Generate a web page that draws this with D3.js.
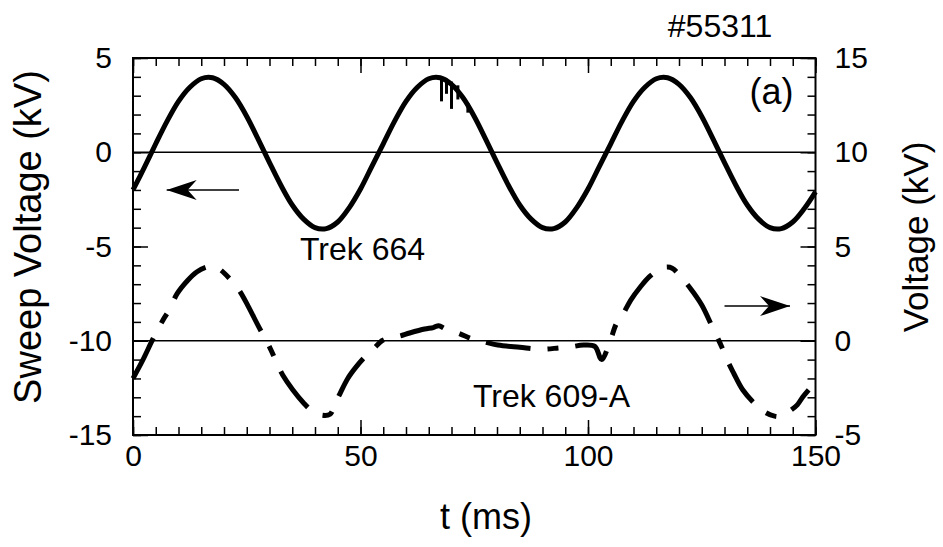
<!DOCTYPE html>
<html>
<head>
<meta charset="utf-8">
<script src="https://cdn.jsdelivr.net/npm/d3@7"></script>
<style>
  body { margin: 0; background: #fff; }
  svg text { font-family: "Liberation Sans", Arial, Helvetica, sans-serif; fill: #000; }
</style>
</head>
<body>
<svg id="chart" width="943" height="547"></svg>
<script>
// ── Data ──
// Trek 664 sweep voltage, left axis (kV), sampled every 2.5 ms
const sweepTime = [0, 2.5, 5, 7.5, 10, 12.5, 15, 17.5, 20, 22.5, 25, 27.5, 30, 32.5, 35, 37.5, 40, 42.5, 45, 47.5,
  50, 52.5, 55, 57.5, 60, 62.5, 65, 67.5, 70, 72.5, 75, 77.5, 80, 82.5, 85, 87.5, 90, 92.5, 95, 97.5,
  100, 102.5, 105, 107.5, 110, 112.5, 115, 117.5, 120, 122.5, 125, 127.5, 130, 132.5, 135, 137.5, 140, 142.5, 145, 147.5, 150];
const trek664 = [-2.0, -0.8, 0.45, 1.65, 2.7, 3.45, 3.9, 3.95, 3.6, 2.9, 1.9, 0.7, -0.55, -1.75, -2.8, -3.55, -4.0, -4.05, -3.7, -2.95,
  -1.95, -0.75, 0.45, 1.65, 2.7, 3.45, 3.9, 3.95, 3.6, 2.9, 1.9, 0.7, -0.55, -1.75, -2.8, -3.55, -4.0, -4.05, -3.7, -2.95,
  -1.95, -0.75, 0.45, 1.65, 2.7, 3.45, 3.9, 3.95, 3.6, 2.9, 1.9, 0.7, -0.55, -1.75, -2.8, -3.55, -4.0, -4.05, -3.7, -3.0, -2.1];

// small spikes on the Trek 664 trace near its 2nd peak: [t, top kV, bottom kV]
const trek664Spikes = [[67.8, 3.95, 2.7], [68.9, 3.9, 3.1], [70.0, 3.75, 2.3], [71.4, 3.55, 2.8], [73.6, 2.6, 2.1]];

// Trek 609-A output voltage, right axis (kV)
const trek609Time = [0, 2, 4.6, 6.6, 8, 9.7, 12, 14, 16, 17.5, 19, 21.3, 23.3, 25.3, 27.5, 30.1, 31.8, 32.9, 35.1, 37.5,
  39.5, 41.5, 43.3, 44.5, 45.5, 47.2, 49, 51, 53, 54.7, 56.5, 58.6, 60.8, 64.1, 66, 67.2, 68.5, 71.4, 75.1, 77.3,
  80.2, 85, 89.8, 93.6, 96, 99, 101.5, 103, 104.8, 106.3, 107.6, 109.4, 111.5, 113.5, 115.5, 117, 118.5, 120.6, 122.6, 125,
  127.2, 129.4, 130.9, 132, 134, 136.5, 139, 141, 142.5, 144.5, 146, 147.2, 148.5];
const trek609 = [-2.0, -1.1, 0.2, 1.1, 1.65, 2.5, 3.2, 3.65, 3.9, 3.95, 3.8, 3.28, 2.69, 1.84, 0.8, -0.38, -1.29, -1.82, -2.6, -3.3,
  -3.75, -3.95, -3.9, -3.3, -2.8, -2.0, -1.4, -0.85, -0.4, 0.0, 0.15, 0.25, 0.41, 0.62, 0.7, 0.8, 0.65, 0.41, 0.04, -0.07,
  -0.23, -0.35, -0.45, -0.38, -0.33, -0.23, -0.3, -1.0, -0.05, 0.94, 1.37, 2.16, 2.85, 3.4, 3.75, 3.9, 3.85, 3.33, 2.75, 1.9,
  0.8, -0.33, -1.18, -1.71, -2.6, -3.3, -3.8, -4.0, -4.0, -3.7, -3.4, -2.98, -2.6];

const xTicksMajor = [0, 50, 100, 150];
const leftTicksMajor = [-15, -10, -5, 0, 5];
const rightTicksMajor = [-5, 0, 5, 10, 15];
const refLinesLeft = [0, -10];   // thin horizontal zero lines (left-axis units)

// arrows: which axis they belong to, from t1 to t2 at level v
const arrows = [
  { axis: 'left',  t1: 23.3, t2: 7.4,   v: -2.0 },
  { axis: 'right', t1: 130,  t2: 144.4, v: 1.84 }
];

const margin = { top: 58, right: 127.5, bottom: 112, left: 133 };
const W = 943, H = 547;
const width = W - margin.left - margin.right;
const height = H - margin.top - margin.bottom;

const svg = d3.select('#chart');
const g = svg.append('g').attr('transform', `translate(${margin.left},${margin.top})`);

const x = d3.scaleLinear().domain([0, 150]).range([0, width]);
const yL = d3.scaleLinear().domain([-15, 5]).range([height, 0]);
const yR = d3.scaleLinear().domain([-5, 15]).range([height, 0]);

const font = '"Liberation Sans", Arial, Helvetica, sans-serif';
const fmt = d => String(d);

// ── Axes (ticks inward) ──
function styleAxis(sel) {
  sel.attr('font-family', font).attr('font-size', 30);
  sel.select('.domain').remove();
  sel.selectAll('line').attr('stroke-width', 1.5);
}

// bottom
g.append('g').attr('transform', `translate(0,${height})`)
  .call(d3.axisBottom(x).tickValues(d3.range(0, 151, 5)).tickSizeInner(-8).tickSizeOuter(0).tickFormat(''))
  .call(styleAxis);
g.append('g').attr('transform', `translate(0,${height})`)
  .call(d3.axisBottom(x).tickValues(xTicksMajor).tickSizeInner(-15).tickSizeOuter(0).tickPadding(10).tickFormat(fmt))
  .call(styleAxis);
// top
g.append('g')
  .call(d3.axisTop(x).tickValues(d3.range(0, 151, 5)).tickSizeInner(-8).tickSizeOuter(0).tickFormat(''))
  .call(styleAxis);
g.append('g')
  .call(d3.axisTop(x).tickValues(xTicksMajor).tickSizeInner(-15).tickSizeOuter(0).tickFormat(''))
  .call(styleAxis);
// left
g.append('g')
  .call(d3.axisLeft(yL).tickValues(d3.range(-15, 6, 1)).tickSizeInner(-8).tickSizeOuter(0).tickFormat(''))
  .call(styleAxis);
g.append('g')
  .call(d3.axisLeft(yL).tickValues(leftTicksMajor).tickSizeInner(-15).tickSizeOuter(0).tickPadding(21).tickFormat(fmt))
  .call(styleAxis);
// right
g.append('g').attr('transform', `translate(${width},0)`)
  .call(d3.axisRight(yR).tickValues(d3.range(-5, 16, 1)).tickSizeInner(-8).tickSizeOuter(0).tickFormat(''))
  .call(styleAxis);
g.append('g').attr('transform', `translate(${width},0)`)
  .call(d3.axisRight(yR).tickValues(rightTicksMajor).tickSizeInner(-15).tickSizeOuter(0).tickPadding(19).tickFormat(fmt))
  .call(styleAxis);

// frame
g.append('rect')
  .attr('width', width).attr('height', height)
  .attr('fill', 'none').attr('stroke', '#000').attr('stroke-width', 2);

// zero reference lines
g.selectAll('.ref').data(refLinesLeft).enter().append('line')
  .attr('x1', 0).attr('x2', width)
  .attr('y1', d => yL(d)).attr('y2', d => yL(d))
  .attr('stroke', '#000').attr('stroke-width', 1.6);

// ── Trek 664 (solid) ──
const solid = sweepTime.map((t, i) => ({ t, v: trek664[i] }));
g.append('path').datum(solid)
  .attr('fill', 'none').attr('stroke', '#000').attr('stroke-width', 5)
  .attr('stroke-linejoin', 'round')
  .attr('d', d3.line().x(d => x(d.t)).y(d => yL(d.v)).curve(d3.curveCatmullRom.alpha(0.5)));

g.selectAll('.spike').data(trek664Spikes).enter().append('line')
  .attr('x1', d => x(d[0])).attr('x2', d => x(d[0]))
  .attr('y1', d => yL(d[1])).attr('y2', d => yL(d[2]))
  .attr('stroke', '#000').attr('stroke-width', 3);

// ── Trek 609-A (long-short dashes) ──
const dashed = trek609Time.map((t, i) => ({ t, v: trek609[i] }));
g.append('path').datum(dashed)
  .attr('fill', 'none').attr('stroke', '#000').attr('stroke-width', 5)
  .attr('stroke-dasharray', '45,17,11,17')
  .attr('d', d3.line().x(d => x(d.t)).y(d => yR(d.v)).curve(d3.curveCatmullRom.alpha(0.5)));

// ── Arrows ──
svg.append('defs').append('marker')
  .attr('id', 'head')
  .attr('markerUnits', 'userSpaceOnUse')
  .attr('markerWidth', 32).attr('markerHeight', 22)
  .attr('refX', 30).attr('refY', 10)
  .attr('orient', 'auto')
  .append('path')
  .attr('d', 'M0,0 L30,10 L0,20 L9,10 Z')
  .attr('fill', '#000');

g.selectAll('.arrow').data(arrows).enter().append('line')
  .attr('x1', d => x(d.t1)).attr('x2', d => x(d.t2))
  .attr('y1', d => (d.axis === 'left' ? yL : yR)(d.v))
  .attr('y2', d => (d.axis === 'left' ? yL : yR)(d.v))
  .attr('stroke', '#000').attr('stroke-width', 1.6)
  .attr('marker-end', 'url(#head)');

// ── Annotations ──
g.append('text').attr('x', x(36.7)).attr('y', yL(-5.72))
  .attr('font-size', 32).text('Trek 664');
g.append('text').attr('x', x(74.7)).attr('y', yL(-13.5))
  .attr('font-size', 32).text('Trek 609-A');
g.append('text').attr('x', width - 22).attr('y', yL(2.55))
  .attr('text-anchor', 'end').attr('font-size', 36).text('(a)');
svg.append('text').attr('x', 720).attr('y', 37)
  .attr('text-anchor', 'middle').attr('font-size', 32).text('#55311');

// axis titles
svg.append('text')
  .attr('transform', `translate(41,237) rotate(-90)`)
  .attr('text-anchor', 'middle').attr('font-size', 38).text('Sweep Voltage (kV)');
svg.append('text')
  .attr('transform', `translate(928,237) rotate(-90)`)
  .attr('text-anchor', 'middle').attr('font-size', 35).text('Voltage (kV)');
svg.append('text')
  .attr('x', 486).attr('y', 529)
  .attr('text-anchor', 'middle').attr('font-size', 36).text('t (ms)');
</script>
</body>
</html>
